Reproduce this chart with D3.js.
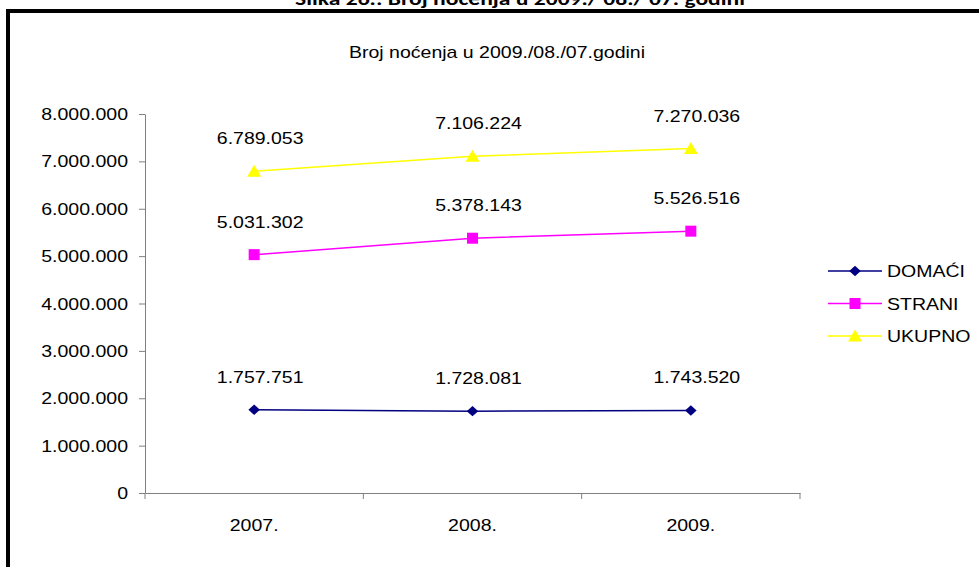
<!DOCTYPE html>
<html>
<head>
<meta charset="utf-8">
<script src="https://cdn.jsdelivr.net/npm/d3@7"></script>
<style>
  html, body { margin: 0; padding: 0; background: #fff; }
  svg { display: block; }
  text { font-family: "Liberation Sans", Arial, sans-serif; fill: #000; }
</style>
</head>
<body>
<svg id="chart" width="979" height="567"></svg>
<script>
// ---- data ----
const categories = ["2007.", "2008.", "2009."];
const domaci = [1757751, 1728081, 1743520];
const strani = [5031302, 5378143, 5526516];
const ukupno = [6789053, 7106224, 7270036];
const seriesNames = ["DOMAĆI", "STRANI", "UKUPNO"];
const yTicks = [0, 1000000, 2000000, 3000000, 4000000, 5000000, 6000000, 7000000, 8000000];
const figureCaption = "Slika 26.: Broj noćenja u 2009./ 08./ 07. godini";
const chartTitle = "Broj noćenja u 2009./08./07.godini";

const series = [
  { name: seriesNames[0], values: domaci, color: "#000080", marker: "diamond" },
  { name: seriesNames[1], values: strani, color: "#FF00FF", marker: "square" },
  { name: seriesNames[2], values: ukupno, color: "#FFFF00", marker: "triangle" }
];

const SX = 1.22; // horizontal stretch of the text in the reference
const fmt = v => d3.format(",")(v).replace(/,/g, ".");

const svg = d3.select("#chart");

// figure caption (cut at top)
svg.append("text")
  .attr("x", 295).attr("y", 5)
  .attr("textLength", 450).attr("lengthAdjust", "spacingAndGlyphs")
  .style("font-family", "Carlito, 'Open Sans', 'Liberation Sans', sans-serif")
  .style("font-weight", "bold").style("font-size", "18px")
  .text(figureCaption);

// frame
svg.append("rect")
  .attr("x", 8).attr("y", 11).attr("width", 1000).attr("height", 600)
  .attr("fill", "none").attr("stroke", "#000").attr("stroke-width", 4);

function stretchedText(sel, x, y, anchor) {
  return sel.append("text")
    .attr("transform", `translate(${x},${y}) scale(${SX},1)`)
    .attr("text-anchor", anchor || "middle")
    .style("font-size", "16px");
}

// title
stretchedText(svg, 497, 58).text(chartTitle);

// scales
const x0 = 145, x1 = 800, yBottom = 493, yTop = 114;
const x = d3.scaleBand().domain(categories).range([x0, x1]);
const y = d3.scaleLinear().domain([0, 8000000]).range([yBottom, yTop]);
const cx = c => x(c) + x.bandwidth() / 2;

// y axis
const yAxis = svg.append("g").attr("transform", `translate(${x0},0)`)
  .call(d3.axisLeft(y).tickValues(yTicks).tickSize(6).tickSizeOuter(0).tickFormat(fmt));
yAxis.select(".domain").attr("stroke", "#808080");
yAxis.selectAll(".tick line").attr("stroke", "#808080");
yAxis.selectAll(".tick text")
  .attr("x", null).attr("dy", null)
  .attr("transform", `translate(-17,5.5) scale(${SX},1)`)
  .style("font-size", "16px").style("font-family", "'Liberation Sans', Arial, sans-serif").attr("fill", "#000");

// x axis
const xAxis = svg.append("g").attr("transform", `translate(0,${yBottom})`)
  .call(d3.axisBottom(x).tickSize(0).tickSizeOuter(0));
xAxis.select(".domain").attr("stroke", "#808080");
xAxis.selectAll(".tick text")
  .attr("y", null).attr("dy", null)
  .attr("transform", `translate(0,38) scale(${SX},1)`)
  .style("font-size", "16px").style("font-family", "'Liberation Sans', Arial, sans-serif").attr("fill", "#000");
// category boundary ticks
const bounds = categories.map(c => x(c)).concat([x0 + x.step() * categories.length]);
svg.append("g").selectAll("line").data(bounds).join("line")
  .attr("x1", d => d).attr("x2", d => d)
  .attr("y1", yBottom).attr("y2", yBottom + 6)
  .attr("stroke", "#808080");

// markers
function drawMarker(g, type, color, px, py) {
  if (type === "diamond") {
    g.append("path").attr("d", d3.symbol(d3.symbolDiamond2, 70)())
      .attr("transform", `translate(${px},${py}) scale(1.1,1)`).attr("fill", color);
  } else if (type === "square") {
    g.append("rect").attr("x", px - 5.5).attr("y", py - 5.5).attr("width", 11).attr("height", 11).attr("fill", color);
  } else {
    g.append("path").attr("d", `M${px},${py - 6.5}L${px + 7},${py + 5.5}L${px - 7},${py + 5.5}Z`).attr("fill", color);
  }
}

const line = d3.line().x((d, i) => cx(categories[i])).y(d => y(d));
series.forEach(s => {
  const g = svg.append("g");
  g.append("path").datum(s.values).attr("d", line)
    .attr("fill", "none").attr("stroke", s.color).attr("stroke-width", 1.5);
  s.values.forEach((v, i) => drawMarker(g, s.marker, s.color, cx(categories[i]), y(v)));
  s.values.forEach((v, i) => {
    stretchedText(g, cx(categories[i]) + 6, y(v) - 27).text(fmt(v));
  });
});

// legend
const legX1 = 828, legX2 = 882, legY0 = 271, legStep = 32.5;
series.forEach((s, i) => {
  const ly = legY0 + i * legStep;
  const g = svg.append("g");
  g.append("line").attr("x1", legX1).attr("x2", legX2).attr("y1", ly).attr("y2", ly)
    .attr("stroke", s.color).attr("stroke-width", 1.5);
  drawMarker(g, s.marker, s.color, (legX1 + legX2) / 2, ly);
  stretchedText(g, 887, ly + 6, "start").text(s.name);
});
</script>
</body>
</html>
